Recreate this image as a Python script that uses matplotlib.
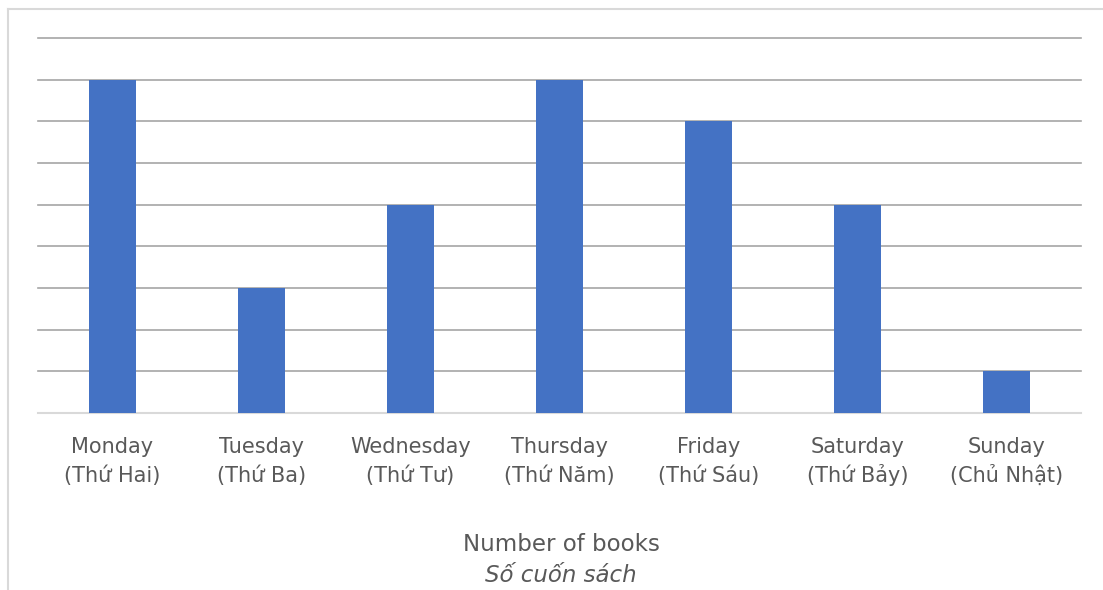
import matplotlib
matplotlib.use('Agg')
import matplotlib.pyplot as plt
import matplotlib.transforms as mtransforms
from matplotlib.lines import Line2D
import numpy as np

# dữ liệu
days_en = ['Monday', 'Tuesday', 'Wednesday', 'Thursday', 'Friday', 'Saturday', 'Sunday']
days_vi = ['(Thứ Hai)', '(Thứ Ba)', '(Thứ Tư)', '(Thứ Năm)', '(Thứ Sáu)', '(Thứ Bảy)', '(Chủ Nhật)']
books = [8, 3, 5, 8, 7, 5, 1]

plt.rcParams['font.family'] = ['DejaVu Sans']

W, H = 1103, 590
fig = plt.figure(figsize=(W / 100, H / 100), dpi=100)

# khung viền biểu đồ (chỉ thấy cạnh trên và cạnh trái)
top_y = 1 - 9 / H
left_x = 8 / W
fig.add_artist(Line2D([left_x, 1], [top_y, top_y], transform=fig.transFigure, color='#d9d9d9', linewidth=1.5))
fig.add_artist(Line2D([left_x, left_x], [0, top_y], transform=fig.transFigure, color='#d9d9d9', linewidth=1.5))

ax = fig.add_axes([38 / W, 177 / H, 1043 / W, 375 / H])
x = np.arange(len(books))
ax.bar(x, books, width=0.31, color='#4472c4', zorder=3)

ax.set_xlim(-0.5, len(books) - 0.5)
ax.set_ylim(0, 9)
ax.set_yticks(np.arange(1, 10))
ax.yaxis.grid(True, color='#a6a6a6', linewidth=1.2, zorder=0)
for gl in ax.get_ygridlines():
    gl.set_clip_on(False)
ax.tick_params(axis='y', left=False, labelleft=False)
ax.set_xticks(x)
ax.set_xticklabels([])
ax.tick_params(axis='x', bottom=False)
for s in ['top', 'right', 'left']:
    ax.spines[s].set_visible(False)
ax.spines['bottom'].set_color('#d9d9d9')
ax.spines['bottom'].set_linewidth(1.5)

# nhãn hai dòng, đặt theo đường cơ sở để các dòng thẳng hàng
trans = mtransforms.blended_transform_factory(ax.transData, fig.transFigure)
for i in x:
    ax.text(i, 1 - 453 / H, days_en[i], transform=trans, ha='center', va='baseline', fontsize=15, color='#595959')
    ax.text(i, 1 - 482 / H, days_vi[i], transform=trans, ha='center', va='baseline', fontsize=15, color='#595959')

fig.text(561 / W, 1 - 551 / H, 'Number of books', ha='center', va='baseline', fontsize=16.5, color='#595959')
fig.text(561 / W, 1 - 582 / H, 'Số cuốn sách', ha='center', va='baseline', fontsize=16.5, color='#595959',
         style='italic')

fig.savefig('out.png', dpi=100)
